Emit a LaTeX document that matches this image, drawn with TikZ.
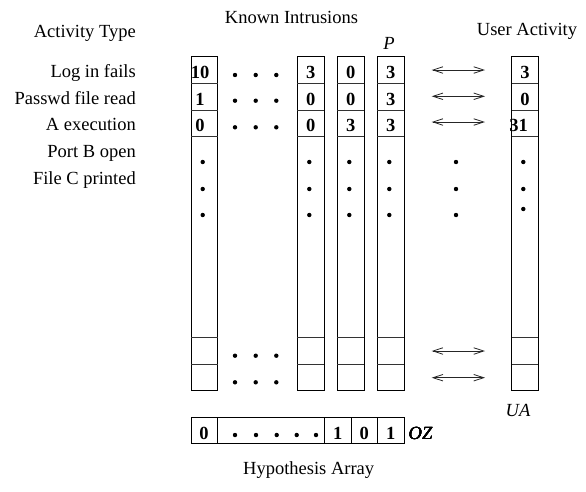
\documentclass[tikz,border=0pt]{standalone}
\usepackage{fontspec}
\setmainfont{Liberation Serif}
\usetikzlibrary{arrows.meta}
\tikzset{
  lbl/.style={inner sep=0pt, font=\fontsize{18.5}{20}\selectfont},
  num/.style={inner sep=0pt, anchor=base, font=\fontsize{18.5}{20}\selectfont\bfseries},
  colbox/.style={draw=black, line width=0.8pt},
  cellline/.style={draw=black!80, line width=0.8pt},
  dot/.style={fill=black},
  arr/.style={draw=black!85, line width=0.8pt, {Straight Barb[length=10pt,width=6.5pt]}-{Straight Barb[length=10pt,width=6.5pt]}}
}
\newcommand{\ydot}[2]{\fill[dot] (#1,#2) circle (2.2);}
\begin{document}
\begin{tikzpicture}[x=1pt,y=-1pt]
\useasboundingbox (0,0) rectangle (586,491);

% headings
\node[lbl, anchor=base east] (acttype) at (136,37.3) {Activity Type};
\node[lbl, anchor=base] (known) at (291.5,23.3) {Known Intrusions};
\node[lbl, anchor=base] (user) at (527,35.7) {User Activity};
\node[lbl, anchor=base] (plabel) at (389,49.3) {\itshape P};

% activity names
\node[lbl, anchor=base east] (r1) at (136,77.3) {Log in fails};
\node[lbl, anchor=base east] (r2) at (136,104) {Passwd file read};
\node[lbl, anchor=base east] (r3) at (136,130.7) {A execution};
\node[lbl, anchor=base east] (r4) at (136,157.3) {Port B open};
\node[lbl, anchor=base east] (r5) at (136,184) {File C printed};

% columns: intrusion vectors and the user activity vector
\foreach \l/\nm in {191/c1, 297.3/c2, 337.3/c3, 377.3/c4, 511.7/ua}{
  \draw[colbox] (\l,56.7) rectangle ++(26.7,334);
  \foreach \y in {83.3,110,136.7,337.3,364}
    \draw[cellline] (\l,\y) -- ++(26.7,0);
}

% cell values
\foreach \x/\a/\b/\c in {200/10/1/0, 310.7/3/0/0, 350.7/0/0/3, 390.7/3/3/3}{
  \node[num] at (\x,78.3) {\a};
  \node[num] at (\x,105) {\b};
  \node[num] at (\x,131.7) {\c};
}
\node[num] at (525,78.3) {3};
\node[num] at (525,105) {0};
\node[num] at (518.5,131.7) {31};

% vertical ellipses inside columns
\foreach \x in {202.7,309.3,349.3,389.3,456}{
  \ydot{\x}{162} \ydot{\x}{189} \ydot{\x}{215}
}
\ydot{523.3}{162} \ydot{523.3}{189} \ydot{523.3}{209}

% horizontal ellipses between first and second columns
\foreach \y in {75,100.7,127.3,355.7,382.3}{
  \ydot{235}{\y} \ydot{255.7}{\y} \ydot{276.3}{\y}
}

% comparison arrows
\foreach \i/\y in {1/70,2/96.3,3/122,4/351,5/377.7}{
  \coordinate (al\i) at (431.7,\y);
  \coordinate (ar\i) at (485,\y);
  \draw[arr] (al\i) -- (ar\i);
}

\node[lbl, anchor=base] (ualabel) at (518,416.5) {\itshape UA};

% hypothesis array
\draw[colbox] (191,417) rectangle (404,443);
\foreach \x in {217.3,324.3,351,377.7}
  \draw[colbox] (\x,417) -- (\x,443);
\node[num] at (204,439.3) {0};
\node[num] at (337.7,439.3) {1};
\node[num] at (364.3,439.3) {0};
\node[num] at (390.7,439.3) {1};
\foreach \x in {235,256,276.7,296.7,316} \ydot{\x}{435}
\node[lbl, anchor=base west] (oz) at (408.5,439.3) {\itshape OZ};
\node[lbl, anchor=base] (hyp) at (308.7,474) {Hypothesis Array};
\end{tikzpicture}
\end{document}
